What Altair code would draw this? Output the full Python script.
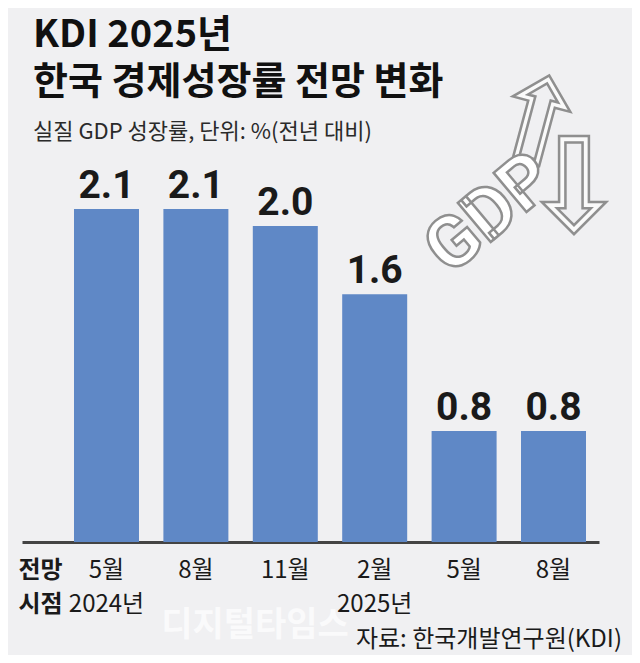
import json
import altair as alt
import pandas as pd

# ---- data ----
periods = ["2024년 5월", "2024년 8월", "2024년 11월", "2025년 2월", "2025년 5월", "2025년 8월"]
months = ["5월", "8월", "11월", "2월", "5월", "8월"]
years = ["2024년", "", "", "2025년", "", ""]
growth = [2.1, 2.1, 2.0, 1.6, 0.8, 0.8]

title_line1 = "KDI 2025년"
title_line2 = "한국 경제성장률 전망 변화"
subtitle = "실질 GDP 성장률, 단위: %(전년 대비)"
axis_title = ["전망", "시점"]
source = "자료: 한국개발연구원(KDI)"
watermark = "디지털타임스"

df = pd.DataFrame({"시점": periods, "성장률": growth})

label_map = {p: [m, y] for p, m, y in zip(periods, months, years)}
label_expr = json.dumps(label_map, ensure_ascii=False) + "[datum.value]"

BG = "#f0f0f2"
BAR = "#5f88c6"
KR = "Noto Sans CJK KR"
NUM = "Roboto"

W, H = 577, 392
y_scale = alt.Scale(domain=[0.15, 2.445], clamp=True)
x_enc = alt.X(
    "시점:N",
    sort=periods,
    scale=alt.Scale(paddingInner=0.273, paddingOuter=0.3635, align=0.8),
    axis=alt.Axis(
        labelExpr=label_expr,
        labelAngle=0,
        labelFont=KR,
        labelFontSize=24,
        labelColor="#1a1a1a",
        labelBaseline="alphabetic",
        labelPadding=35,
        labelLineHeight=34,
        ticks=False,
        tickSize=0,
        domainColor="#444444",
        domainWidth=3,
        title=axis_title,
        titleFont=KR,
        titleFontSize=24,
        titleFontWeight="bold",
        titleColor="#1a1a1a",
        titleAlign="left",
        titleAnchor="start",
        titleBaseline="alphabetic",
        titleLineHeight=34,
        titleX=-4,
        titleY=35,
    ),
)

bars = alt.Chart(df).mark_bar(color=BAR).encode(
    x=x_enc,
    y=alt.Y("성장률:Q", scale=y_scale, axis=None),
    y2=alt.datum(0.15),
)

values = alt.Chart(df).mark_text(
    font=NUM, fontSize=39, fontWeight="bold", color="#1a1a1a",
    baseline="alphabetic", dy=-11,
).encode(
    x=alt.X("시점:N", sort=periods),
    y=alt.Y("성장률:Q", scale=y_scale),
    text=alt.Text("성장률:Q", format=".1f"),
)


def label(text, x, y, **kw):
    return alt.Chart(pd.DataFrame({"t": [text]})).mark_text(**kw).encode(
        x=alt.value(x), y=alt.value(y), text="t:N"
    )


t1 = label(title_line1, 11, -103, font=KR, fontSize=38, fontWeight="bold",
           color="#111111", align="left", baseline="alphabetic")
t2 = label(title_line2, 11, -56, font=KR, fontSize=38, fontWeight="bold",
           color="#111111", align="left", baseline="alphabetic")
st = label(subtitle, 11, -11, font=KR, fontSize=22, color="#2a2a2a",
           align="left", baseline="alphabetic")

src = label(source, 600, 497, font=KR, fontSize=24, color="#1a1a1a",
            align="right", baseline="alphabetic")

wm = label(watermark, 233, 476, font=KR, fontSize=34, fontWeight="bold",
           color="#ffffff", opacity=0.7, align="center", baseline="middle")

# decorative GDP illustration (approximation)
arrow_up = label("⇧", 513, -22, font="DejaVu Sans", fontSize=120, color="#fafafa",
                 stroke="#8f8f8f", strokeWidth=2.5, angle=15, align="center",
                 baseline="middle")
arrow_dn = label("⇩", 552, 42, font="DejaVu Sans", fontSize=130, color="#fafafa",
                 stroke="#8f8f8f", strokeWidth=2.5, align="center", baseline="middle")
gdp = label("GDP", 468, 64, font="Roboto", fontSize=72, fontWeight="bold",
            color="#ffffff", stroke="#8f8f8f", strokeWidth=2.5, angle=320,
            align="center", baseline="middle")

chart = alt.layer(bars, values, arrow_up, arrow_dn, gdp, t1, t2, st, wm, src).properties(
    width=W,
    height=H,
    autosize=alt.AutoSizeParams(type="none"),
    padding={"left": 14, "top": 142, "right": 33, "bottom": 113},
).configure(background=BG).configure_view(stroke=None)

chart.save("out.html", embed_options={"renderer": "svg", "actions": False})
